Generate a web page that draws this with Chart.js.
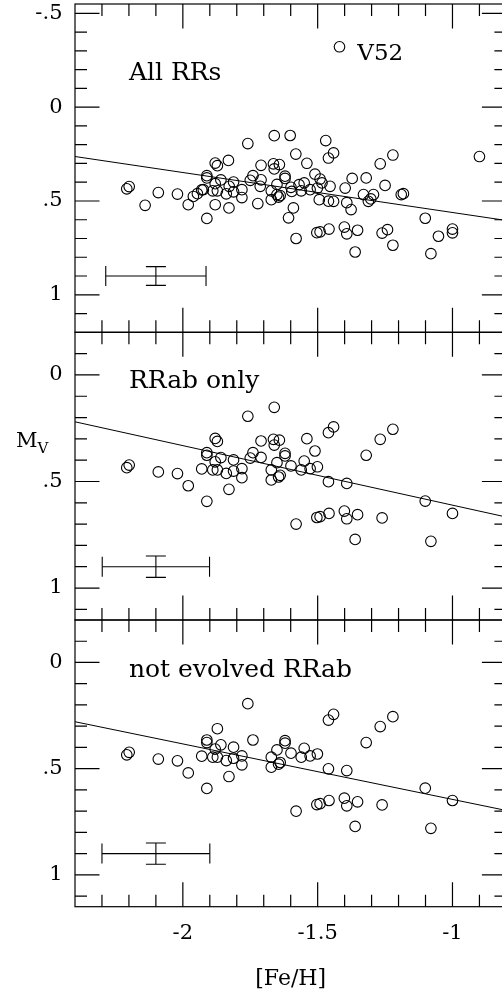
<!DOCTYPE html>
<html><head><meta charset="utf-8">
<script src="https://cdn.jsdelivr.net/npm/chart.js@4.4.1/dist/chart.umd.min.js"></script>
<style>
html,body{margin:0;padding:0;background:#fff;overflow:hidden;width:502px;height:995px;position:relative;}
canvas{position:absolute;left:0;top:0;}
</style></head><body>
<canvas id="c1" width="520" height="995"></canvas>
<canvas id="c2" width="520" height="995"></canvas>
<canvas id="c3" width="520" height="995"></canvas>
<script>
// ---------- data ----------
// RRab stars, not evolved (panel 3; also in panels 1 and 2)
const feH_rrabNE = [-2.208,-2.199,-2.091,-2.020,-1.980,-1.911,-1.930,-1.911,-1.911,-1.872,
  -1.880,-1.889,-1.859,-1.872,-1.839,-1.829,-1.812,-1.812,-1.781,-1.781,
  -1.759,-1.740,-1.672,-1.672,-1.651,-1.645,-1.639,-1.621,-1.621,-1.599,
  -1.561,-1.550,-1.528,-1.501,-1.460,-1.441,-1.460,-1.392,-1.320,-1.268,
  -1.221,-1.580,-1.503,-1.491,-1.458,-1.401,-1.392,-1.352,-1.261,-1.361,
  -1.101,-1.000,-1.080];
const mv_rrabNE = [0.435,0.423,0.455,0.463,0.520,0.593,0.441,0.365,0.377,0.312,
  0.408,0.446,0.388,0.446,0.462,0.537,0.399,0.451,0.440,0.482,
  0.194,0.365,0.446,0.493,0.412,0.479,0.471,0.368,0.380,0.427,
  0.446,0.404,0.440,0.431,0.271,0.244,0.501,0.509,0.377,0.302,
  0.255,0.700,0.669,0.665,0.650,0.639,0.675,0.656,0.671,0.772,
  0.592,0.650,0.781];
// evolved RRab stars (panels 1 and 2 only)
const feH_rrabEv = [-1.880,-1.661,-1.710,-1.664,-1.642,-1.661,-1.540,-1.510,-1.710,-1.750];
const mv_rrabEv  = [0.298,0.152,0.310,0.302,0.306,0.329,0.299,0.357,0.387,0.390];
// RRc stars (panel 1 only), V52 included
const feH_rrc = [-2.140,-1.961,-1.946,-1.924,-1.880,-1.831,-1.602,-1.470,-1.581,-1.713,
  -1.569,-1.491,-1.484,-1.454,-1.398,-1.372,-1.722,-1.596,-1.494,-1.441,
  -1.590,-1.608,-1.376,-1.250,-1.330,-1.293,-1.303,-1.312,-1.190,-1.182,
  -0.900,-1.241,-1.221,-1.052,-1.000,-1.419,-1.828,-1.651];
const mv_rrc = [0.523,0.476,0.461,0.440,0.520,0.284,0.151,0.178,0.250,0.422,
  0.413,0.383,0.404,0.422,0.431,0.380,0.514,0.449,0.493,0.502,
  0.537,0.590,0.546,0.417,0.466,0.466,0.489,0.502,0.466,0.461,
  0.263,0.653,0.736,0.688,0.670,-0.322,0.422,0.466];
// linear fits (end points)
const fitFeH = [-2.4, -0.8];
const fitMv1 = [0.263, 0.604];
const fitMv2 = [0.220, 0.667];
const fitMv3 = [0.279, 0.697];
// typical error bars: centre and half sizes
const errFeH = [-2.1, -2.1, -2.1];
const errMv  = [0.9, 0.9, 0.9];
const errDFeH = [0.186, 0.199, 0.2];
const errDMv  = [0.05, 0.05, 0.05];
// ticks
const xMinor = [-2.3,-2.2,-2.1,-2.0,-1.9,-1.8,-1.7,-1.6,-1.5,-1.4,-1.3,-1.2,-1.1,-1.0,-0.9];
const xMajor = [-2, -1.5, -1];
const xMajorLabels = ['-2', '-1.5', '-1'];
const y1Minor = [-0.5,-0.4,-0.3,-0.2,-0.1,0,0.1,0.2,0.3,0.4,0.5,0.6,0.7,0.8,0.9,1.0,1.1];
const y1Major = [-0.5, 0, 0.5, 1];
const y1MajorLabels = ['-.5', '0', '.5', '1'];
const y23Minor = [-0.1,0,0.1,0.2,0.3,0.4,0.5,0.6,0.7,0.8,0.9,1.0,1.1];
const y23Major = [0, 0.5, 1];
const y23MajorLabels = ['0', '.5', '1'];
const panelTitles = ['All RRs', 'RRab only', 'not evolved RRab'];

// ---------- helpers ----------
const zip = (xs, ys) => xs.map((v, i) => ({x: v, y: ys[i]}));
const FONT = '"DejaVu Serif", "Liberation Serif", serif';
const isMajor = v => Math.abs(v * 2 - Math.round(v * 2)) < 1e-6;

const frameTicks = {
  id: 'frameTicks',
  afterDatasetsDraw(chart, args, o) {
    const {ctx, chartArea: a} = chart;
    const x = chart.scales.x, y = chart.scales.y;
    ctx.save();
    ctx.strokeStyle = '#000';
    ctx.lineWidth = 1.2;
    ctx.beginPath();
    for (const v of xMinor) {
      const p = x.getPixelForValue(v), L = isMajor(v) ? 24.5 : 12;
      ctx.moveTo(p, a.top); ctx.lineTo(p, a.top + L);
      ctx.moveTo(p, a.bottom); ctx.lineTo(p, a.bottom - L);
    }
    for (const v of o.yMinor) {
      const p = y.getPixelForValue(v), L = isMajor(v) ? 24.5 : 12;
      ctx.moveTo(a.left, p); ctx.lineTo(a.left + L, p);
      ctx.moveTo(a.right, p); ctx.lineTo(a.right - L, p);
    }
    ctx.stroke();
    ctx.strokeRect(a.left, a.top, a.right - a.left, a.bottom - a.top);
    ctx.restore();
  }
};

const panelText = {
  id: 'panelText',
  afterDraw(chart, args, o) {
    const {ctx} = chart;
    const x = chart.scales.x, y = chart.scales.y;
    ctx.save();
    ctx.fillStyle = '#000';
    ctx.textBaseline = 'alphabetic';
    ctx.textAlign = 'left';
    for (const t of o.items) {
      ctx.font = t.size + 'px ' + FONT;
      ctx.fillText(t.text, x.getPixelForValue(t.x), y.getPixelForValue(t.y));
    }
    if (o.mv) {
      ctx.font = '21px ' + FONT;
      ctx.fillText('M', o.mv.left, o.mv.base);
      const w = ctx.measureText('M').width;
      ctx.font = '15px ' + FONT;
      ctx.fillText('V', o.mv.left + w, o.mv.base + 6.5);
    }
    ctx.restore();
  }
};

function makePanel(id, p) {
  const i = p.idx;
  const datasets = [
    {data: p.points, showLine: false, pointRadius: 5.3, pointHoverRadius: 5.3,
     pointBorderWidth: 1.1, pointBorderColor: '#000', pointBackgroundColor: 'rgba(0,0,0,0)'},
    {data: zip(fitFeH, p.fit), showLine: true, borderColor: '#000', borderWidth: 1, pointRadius: 0},
    {data: [{x: errFeH[i] - errDFeH[i], y: errMv[i]}, {x: errFeH[i] + errDFeH[i], y: errMv[i]}],
     showLine: true, borderColor: '#000', borderWidth: 1.1, pointStyle: 'line', rotation: 90,
     pointRadius: 10, pointBorderWidth: 1.1, pointBorderColor: '#000'},
    {data: [{x: errFeH[i], y: errMv[i] - errDMv[i]}, {x: errFeH[i], y: errMv[i] + errDMv[i]}],
     showLine: true, borderColor: '#000', borderWidth: 1.1, pointStyle: 'line', rotation: 0,
     pointRadius: 10, pointBorderWidth: 1.1, pointBorderColor: '#000'}
  ];
  return new Chart(document.getElementById(id), {
    type: 'scatter',
    data: {datasets},
    plugins: [frameTicks, panelText],
    options: {
      responsive: false, animation: false, events: [],
      layout: {autoPadding: false, padding: {left: 0, right: 13.6, top: p.top, bottom: p.bottom}},
      plugins: {legend: {display: false}, tooltip: {enabled: false},
        frameTicks: {yMinor: p.yMinor},
        panelText: {items: p.texts, mv: p.mv}},
      scales: {
        x: {type: 'linear', min: -2.4, max: -0.8, display: p.showX,
          grid: {display: false, drawTicks: false}, border: {display: false},
          afterBuildTicks: s => { s.ticks = xMajor.map(v => ({value: v})); },
          afterFit: s => { if (p.showX) s.height = 88.3; s.paddingLeft = 0; s.paddingRight = 0; },
          ticks: {color: '#000', font: {family: FONT, size: 21}, padding: 14.5, maxRotation: 0,
            callback: v => xMajorLabels[xMajor.indexOf(v)] ?? ''},
          title: {display: p.showX, text: '[Fe/H]', color: '#000',
            font: {family: FONT, size: 22}, padding: {top: 0, bottom: 3}}},
        y: {type: 'linear', reverse: true, min: p.ymin, max: p.ymax,
          grid: {display: false, drawTicks: false}, border: {display: false},
          afterBuildTicks: s => { s.ticks = p.yMajor.map(v => ({value: v})); },
          afterFit: s => { s.width = 75; s.paddingTop = 0; s.paddingBottom = 0; },
          ticks: {color: '#000', font: {family: FONT, size: 21}, padding: 12.5,
            callback: v => p.yMajorLabels[p.yMajor.indexOf(v)] ?? ''}}
      }
    }
  });
}

const allFeH = feH_rrabNE.concat(feH_rrabEv, feH_rrc);
const allMv = mv_rrabNE.concat(mv_rrabEv, mv_rrc);

makePanel('c1', {idx: 0, top: 4, bottom: 995 - 332.3, ymin: -0.55, ymax: 1.2, showX: false,
  points: zip(allFeH, allMv), fit: fitMv1, yMinor: y1Minor, yMajor: y1Major, yMajorLabels: y1MajorLabels,
  texts: [{text: panelTitles[0], x: -2.2, y: -0.145, size: 25}, {text: 'V52', x: -1.353, y: -0.252, size: 23}]});
makePanel('c2', {idx: 1, top: 332.3, bottom: 995 - 620, ymin: -0.2, ymax: 1.15, showX: false,
  points: zip(feH_rrabNE.concat(feH_rrabEv), mv_rrabNE.concat(mv_rrabEv)), fit: fitMv2,
  yMinor: y23Minor, yMajor: y23Major, yMajorLabels: y23MajorLabels,
  texts: [{text: panelTitles[1], x: -2.2, y: 0.0625, size: 25}], mv: {left: 16, base: 446.7}});
makePanel('c3', {idx: 2, top: 620, bottom: 0, ymin: -0.2, ymax: 1.15, showX: true,
  points: zip(feH_rrabNE, mv_rrabNE), fit: fitMv3,
  yMinor: y23Minor, yMajor: y23Major, yMajorLabels: y23MajorLabels,
  texts: [{text: panelTitles[2], x: -2.2, y: 0.068, size: 25}]});
</script></body></html>
